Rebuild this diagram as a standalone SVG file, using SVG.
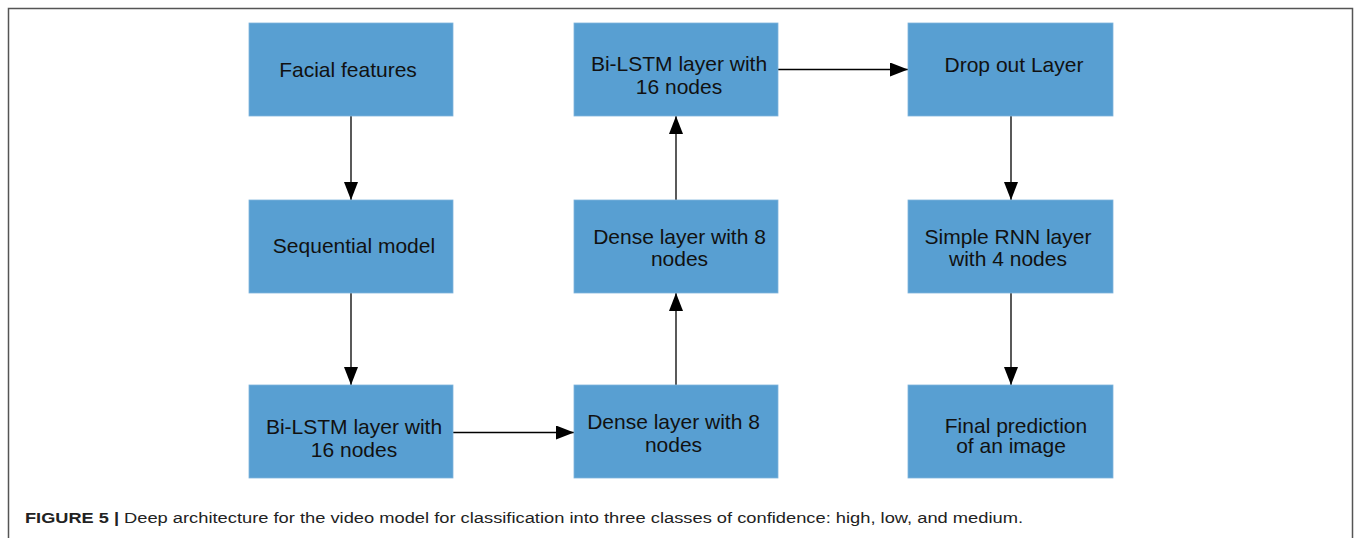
<svg xmlns="http://www.w3.org/2000/svg" width="1354" height="538" viewBox="0 0 1354 538">
<defs>
<style>
.box{fill:#589fd2;stroke:#7fb4dc;stroke-width:0.8}
.lbl{font-family:"Liberation Sans",Arial,sans-serif;font-size:21px;fill:#111;text-anchor:middle}
.edge{stroke:#000;stroke-width:1.3;fill:none;marker-end:url(#ah)}
.cap{font-family:"Liberation Sans Narrow","Liberation Sans",Arial,sans-serif;font-size:15.5px;fill:#222}
</style>
<marker id="ah" markerUnits="userSpaceOnUse" markerWidth="20" markerHeight="16" refX="18" refY="7" orient="auto">
<path d="M0,0 L18,7 L0,14 z" fill="#000"/>
</marker>
</defs>
<rect x="0" y="0" width="1354" height="538" fill="#fff"/>
<path d="M8.5,545 V8.5 H1352.5 V545" fill="none" stroke="#555" stroke-width="1.5"/>

<g id="connectors">
<line class="edge" x1="351" y1="116" x2="351" y2="200"/>
<line class="edge" x1="351" y1="293" x2="351" y2="385"/>
<line class="edge" x1="453" y1="432.5" x2="574" y2="432.5"/>
<line class="edge" x1="676" y1="385" x2="676" y2="293"/>
<line class="edge" x1="676" y1="200" x2="676" y2="116"/>
<line class="edge" x1="778" y1="69.5" x2="908" y2="69.5"/>
<line class="edge" x1="1011" y1="116" x2="1011" y2="200"/>
<line class="edge" x1="1011" y1="293" x2="1011" y2="385"/>
</g>

<g id="facial">
<rect class="box" x="249" y="23" width="204" height="93"/>
<text class="lbl" x="348" y="77">Facial features</text>
</g>
<g id="sequential">
<rect class="box" x="249" y="200" width="204" height="93"/>
<text class="lbl" x="354" y="252.5">Sequential model</text>
</g>
<g id="bilstm1">
<rect class="box" x="249" y="385" width="204" height="93"/>
<text class="lbl" x="354" y="434">Bi-LSTM layer with</text>
<text class="lbl" x="354" y="456.5">16 nodes</text>
</g>
<g id="dense1">
<rect class="box" x="574" y="385" width="204" height="93"/>
<text class="lbl" x="673.5" y="429">Dense layer with 8</text>
<text class="lbl" x="673.5" y="452">nodes</text>
</g>
<g id="dense2">
<rect class="box" x="574" y="200" width="204" height="93"/>
<text class="lbl" x="679.5" y="243.5">Dense layer with 8</text>
<text class="lbl" x="679.5" y="266">nodes</text>
</g>
<g id="bilstm2">
<rect class="box" x="574" y="23" width="204" height="93"/>
<text class="lbl" x="679" y="71">Bi-LSTM layer with</text>
<text class="lbl" x="679" y="94">16 nodes</text>
</g>
<g id="dropout">
<rect class="box" x="908" y="23" width="205" height="93"/>
<text class="lbl" x="1014" y="71.5">Drop out Layer</text>
</g>
<g id="rnn">
<rect class="box" x="908" y="200" width="205" height="93"/>
<text class="lbl" x="1008" y="243.5">Simple RNN layer</text>
<text class="lbl" x="1008" y="266">with 4 nodes</text>
</g>
<g id="final">
<rect class="box" x="908" y="385" width="205" height="93"/>
<text class="lbl" x="1016" y="433">Final prediction</text>
<text class="lbl" x="1011" y="452.5">of an image</text>
</g>

<text class="cap" x="25" y="523" font-weight="bold" textLength="94" lengthAdjust="spacingAndGlyphs">FIGURE 5 |</text>
<text class="cap" x="124" y="523" textLength="899" lengthAdjust="spacingAndGlyphs">Deep architecture for the video model for classification into three classes of confidence: high, low, and medium.</text>
</svg>
